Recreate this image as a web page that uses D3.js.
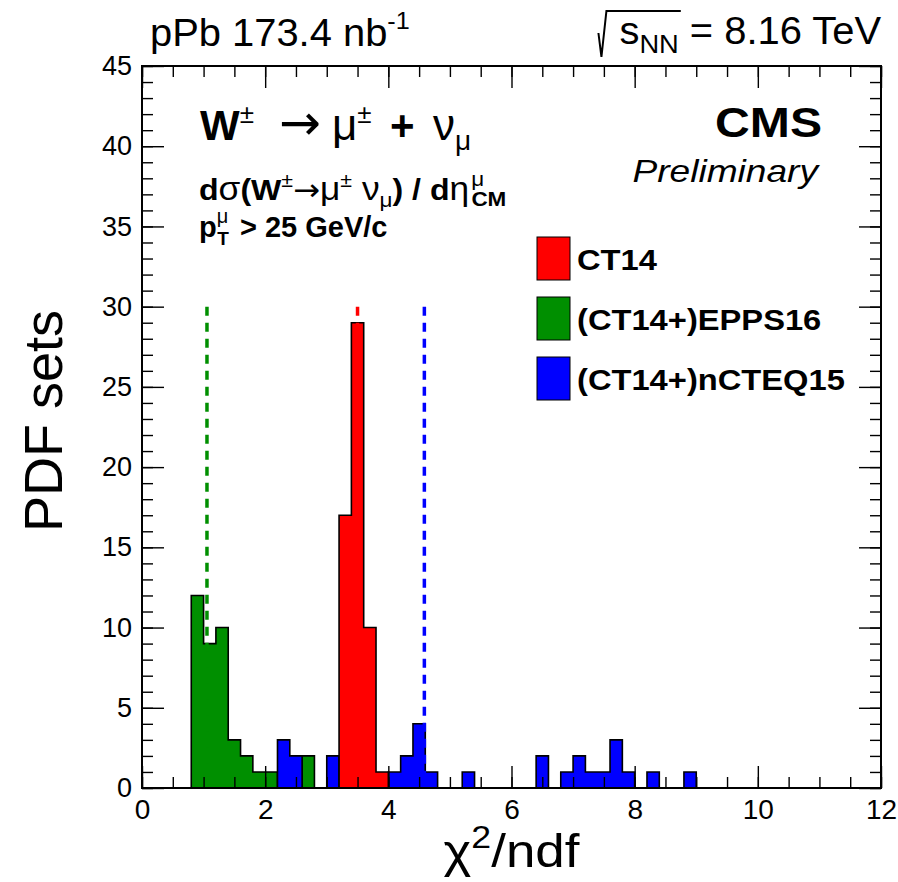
<!DOCTYPE html>
<html><head><meta charset="utf-8">
<script src="https://cdn.jsdelivr.net/npm/d3@7"></script>
<style>body{margin:0;background:#fff} text{font-family:"Liberation Sans",Arial,Helvetica,sans-serif;fill:#000}</style>
</head><body><svg id="c" width="898" height="882"></svg>
<script>
// ---------------- data ----------------
const binWidth = 0.2;
const ct14Bins   = [3.2, 3.4, 3.6, 3.8];
const ct14Counts = [17, 29, 10, 1];
const eppsBins   = [0.8, 1.0, 1.2, 1.4, 1.6, 1.8, 2.0, 2.6];
const eppsCounts = [12, 9, 10, 3, 2, 1, 1, 2];
const ncteqBins   = [2.2, 2.4, 3.0, 4.0, 4.2, 4.4, 4.6, 5.2, 6.4, 6.8, 7.0, 7.2, 7.4, 7.6, 7.8, 8.2, 8.8];
const ncteqCounts = [3, 2, 2, 1, 2, 4, 1, 1, 2, 1, 2, 1, 1, 3, 1, 1, 1];
const seriesNames  = ["CT14", "(CT14+)EPPS16", "(CT14+)nCTEQ15"];
const seriesColors = ["#ff0000", "#008f00", "#0000ff"];
const meanChi2 = [3.50, 1.055, 4.585];   // dashed reference lines per series
const meanLineTop = 30;
const xTicks = [0, 2, 4, 6, 8, 10, 12];
const xMinorTicks = d3.range(0, 12.001, 0.5);
const yTicks = [0, 5, 10, 15, 20, 25, 30, 35, 40, 45];
const yMinorTicks = d3.range(0, 45.001, 1);

// ---------------- layout ----------------
const svg = d3.select("#c");
const L = 142, R = 881, T = 66, B = 788;
const x = d3.scaleLinear().domain([0, 12]).range([L, R]);
const y = d3.scaleLinear().domain([0, 45]).range([B, T]);

const series = [
  {bins: ct14Bins, counts: ct14Counts},
  {bins: eppsBins, counts: eppsCounts},
  {bins: ncteqBins, counts: ncteqCounts}
];

function histPath(bins, counts) {
  const p = d3.path();
  let prevHi = null;
  bins.forEach((lo, i) => {
    const hi = lo + binWidth;
    if (prevHi === null || Math.abs(prevHi - lo) > 1e-6) {
      if (prevHi !== null) { p.lineTo(x(prevHi), y(0)); p.closePath(); }
      p.moveTo(x(lo), y(0));
    }
    p.lineTo(x(lo), y(counts[i]));
    p.lineTo(x(hi), y(counts[i]));
    prevHi = hi;
  });
  p.lineTo(x(prevHi), y(0)); p.closePath();
  return p.toString();
}

const gH = svg.append("g");
[1, 2, 0].forEach(i => {
  gH.append("path")
    .attr("d", histPath(series[i].bins, series[i].counts))
    .attr("fill", seriesColors[i])
    .attr("stroke", "#000").attr("stroke-width", 1.6);
});

// dashed mean lines
meanChi2.forEach((m, i) => {
  svg.append("line")
    .attr("x1", x(m)).attr("x2", x(m))
    .attr("y1", y(meanLineTop)).attr("y2", y(0))
    .attr("stroke", seriesColors[i]).attr("stroke-width", 3.5)
    .attr("stroke-dasharray", "9,7");
});

// axes
function styleAxis(g) { g.select(".domain").remove(); g.selectAll("line").attr("stroke", "#000").attr("stroke-width", 1.4); }
svg.append("g").attr("transform", `translate(0,${B})`)
  .call(d3.axisBottom(x).tickValues(xMinorTicks).tickSize(-11).tickFormat("")).call(styleAxis);
svg.append("g").attr("transform", `translate(0,${B})`)
  .call(d3.axisBottom(x).tickValues(xTicks).tickSize(-22).tickPadding(11).tickFormat(d3.format("d")))
  .call(styleAxis)
  .selectAll("text").attr("font-size", 28).attr("font-family", "Liberation Sans");
svg.append("g").attr("transform", `translate(0,${T})`)
  .call(d3.axisTop(x).tickValues(xMinorTicks).tickSize(-11).tickFormat("")).call(styleAxis);
svg.append("g").attr("transform", `translate(0,${T})`)
  .call(d3.axisTop(x).tickValues(xTicks).tickSize(-22).tickFormat("")).call(styleAxis);
svg.append("g").attr("transform", `translate(${L},0)`)
  .call(d3.axisLeft(y).tickValues(yMinorTicks).tickSize(-11).tickFormat("")).call(styleAxis);
svg.append("g").attr("transform", `translate(${L},0)`)
  .call(d3.axisLeft(y).tickValues(yTicks).tickSize(-22).tickPadding(10).tickFormat(d3.format("d")))
  .call(styleAxis)
  .selectAll("text").attr("font-size", 27).attr("font-family", "Liberation Sans");
svg.append("g").attr("transform", `translate(${R},0)`)
  .call(d3.axisRight(y).tickValues(yMinorTicks).tickSize(-11).tickFormat("")).call(styleAxis);
svg.append("g").attr("transform", `translate(${R},0)`)
  .call(d3.axisRight(y).tickValues(yTicks).tickSize(-22).tickFormat("")).call(styleAxis);

svg.append("rect").attr("x", L).attr("y", T).attr("width", R - L).attr("height", B - T)
  .attr("fill", "none").attr("stroke", "#000").attr("stroke-width", 2);

// rich text helper (relative shifts only, so anchors apply to the whole string)
function rich(xp, yp, anchor, base, parts) {
  const sx = base.sx || 1;
  const t = svg.append("text").attr("x", 0).attr("y", 0)
    .attr("transform", `translate(${xp},${yp}) scale(${sx},1)`)
    .attr("text-anchor", anchor).attr("font-size", base.size);
  if (base.w) t.attr("font-weight", base.w);
  if (base.it) t.attr("font-style", "italic");
  let cur = 0;
  parts.forEach(p => {
    const off = p.off || 0;
    const s = t.append("tspan").text(p.t);
    if (off !== cur) { s.attr("dy", off - cur); cur = off; }
    if (p.x != null) s.attr("x", p.x);
    if (p.dx != null) s.attr("dx", p.dx);
    if (p.size) s.attr("font-size", p.size);
    if (p.w) s.attr("font-weight", p.w);
    if (p.f) s.attr("font-family", p.f);
  });
  return t;
}

// axis titles
svg.append("text").attr("transform", `translate(62,${(T + B) / 2 - 6}) rotate(-90)`)
  .attr("text-anchor", "middle").attr("font-size", 54).text("PDF sets");
rich((L + R) / 2, 867, "middle", {size: 46, sx: 1.15}, [
  {t: "χ"}, {t: "2", size: 31, off: -19}, {t: "/ndf", off: 0}
]);

// header texts
rich(150, 46, "start", {size: 38, sx: 1.05}, [
  {t: "pPb 173.4 nb"}, {t: "-1", size: 24, off: -17}
]);
{
  const rx = 881, ry = 44, rsx = 1.05;
  const rt = rich(rx, ry, "end", {size: 38, sx: rsx}, [
    {t: "s"}, {t: "NN", size: 26, off: 9}, {t: " = 8.16 TeV", off: 0}
  ]);
  const bb = rt.node().getBBox();
  const sxs = rx + rsx * bb.x;
  const nnEnd = rx + rsx * (bb.x + rt.node().getSubStringLength(0, 3));
  svg.append("path")
    .attr("d", `M${sxs - 21},${ry - 11} L${sxs - 18},${ry + 13} L${sxs - 13},${ry - 33} L${nnEnd + 2},${ry - 33}`)
    .attr("fill", "none").attr("stroke", "#000").attr("stroke-width", 2);
}

// process label
rich(200, 140, "start", {size: 42, w: "bold"}, [
  {t: "W"}, {t: "±", size: 26, off: -17, w: "normal"},
  {t: "→", x: 79, w: "normal", f: "DejaVu Sans", size: 50, off: 0},
  {t: "μ", x: 132, w: "normal", size: 44}, {t: "±", size: 26, off: -17, w: "normal"},
  {t: "+", x: 190, off: 0},
  {t: "ν", x: 233, w: "normal", size: 44}, {t: "μ", size: 28, off: 10, w: "normal"}
]);
rich(199, 200, "start", {size: 30, w: "bold", sx: 1.07}, [
  {t: "d"}, {t: "σ", w: "normal", size: 33}, {t: "(W"}, {t: "±", size: 20, off: -13, w: "normal"},
  {t: "→", w: "normal", f: "DejaVu Sans", off: 0}, {t: "μ", w: "normal", size: 33}, {t: "±", size: 20, off: -13, w: "normal"},
  {t: " ν", w: "normal", off: 0, size: 33}, {t: "μ", size: 21, off: 7, w: "normal"}, {t: ") / d", off: 0},
  {t: "η", w: "normal", size: 33}, {t: "μ", size: 21, off: -14, w: "normal", dx: 2}, {t: "CM", size: 21, off: 6, dx: -12}
]);
rich(199, 237, "start", {size: 29, w: "bold", sx: 1.0}, [
  {t: "p"}, {t: "μ", size: 20, off: -14, w: "normal"}, {t: "T", size: 19, off: 8, dx: -11},
  {t: " > 25 GeV/c", dx: 3, off: 0}
]);

// CMS labels
rich(822, 137, "end", {size: 43, w: "bold", sx: 1.12}, [{t: "CMS"}]);
rich(818, 182, "end", {size: 32, it: true, sx: 1.16}, [{t: "Preliminary"}]);

// legend
const legY = [237, 297, 357];
seriesNames.forEach((n, i) => {
  svg.append("rect").attr("x", 537).attr("y", legY[i]).attr("width", 33).attr("height", 43)
    .attr("fill", seriesColors[i]).attr("stroke", "#000").attr("stroke-width", 1);
  rich(577, legY[i] + 33, "start", {size: 30, w: "bold", sx: 1.09}, [{t: n}]);
});
</script></body></html>
